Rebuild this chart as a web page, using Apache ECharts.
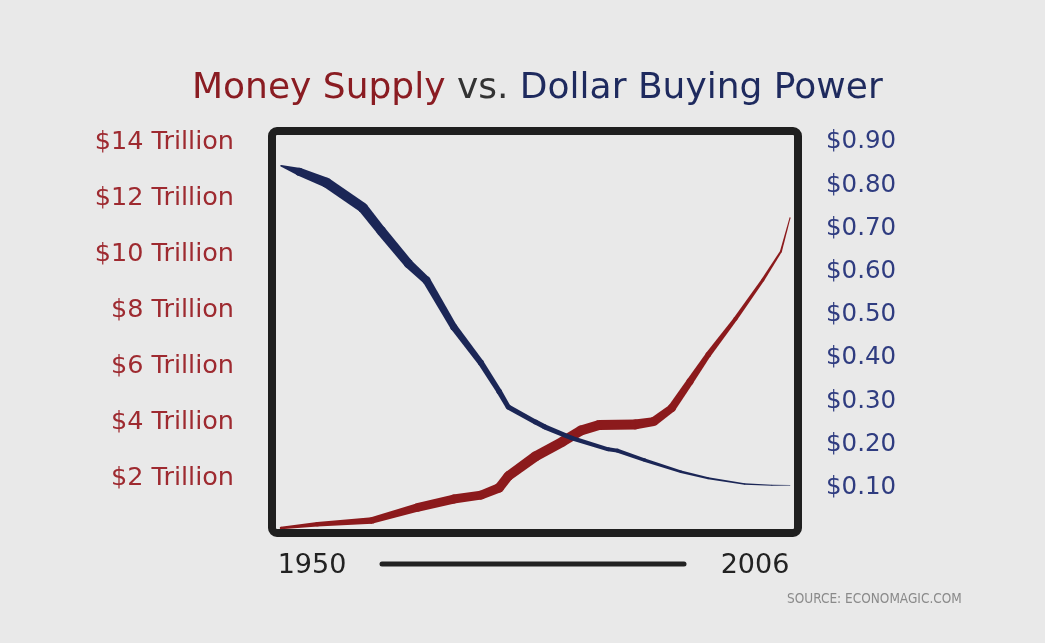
<!DOCTYPE html>
<html>
<head>
<meta charset="utf-8">
<script src="https://cdn.jsdelivr.net/npm/echarts@6/dist/echarts.min.js"></script>
<style>
html,body{margin:0;padding:0;background:#e9e9e9;}
#c{width:1045px;height:643px;}
</style>
</head>
<body>
<div id="c"></div>
<script>
// ---- data ----
const moneyYears  = [1950, 1954, 1960, 1965, 1969, 1972, 1974, 1975, 1978, 1981, 1983, 1985, 1989, 1991, 1993, 1995, 1997, 2000, 2003, 2005, 2006];
const moneyValues = [0.25, 0.38, 0.52, 0.98, 1.28, 1.42, 1.68, 2.10, 2.80, 3.33, 3.72, 3.92, 3.94, 4.04, 4.52, 5.47, 6.42, 7.70, 9.08, 10.1, 11.3];
const dollarYears  = [1950, 1952, 1955, 1959, 1961, 1964, 1966, 1969, 1972, 1974, 1975, 1978, 1979, 1982, 1986, 1987, 1990, 1994, 1997, 2001, 2004, 2006];
const dollarValues = [0.845, 0.831, 0.806, 0.748, 0.695, 0.619, 0.580, 0.472, 0.389, 0.323, 0.287, 0.252, 0.241, 0.215, 0.189, 0.186, 0.164, 0.137, 0.122, 0.109, 0.106, 0.106];
const yearLabels = [1950, 2006];
const title = ['Money Supply', 'vs.', 'Dollar Buying Power'];
const source = 'SOURCE: ECONOMAGIC.COM';

// ---- stroke widths at each vertex (style only) ----
const moneyWidths  = [2.5, 4.5, 6.5, 8.5, 9, 9, 9.5, 9.5, 10, 10, 10, 10, 10, 9, 8, 7, 5.5, 4, 3, 2, 1];
const dollarWidths = [1.5, 8, 10, 10, 9.5, 9, 8, 7, 6, 5.5, 5, 5, 5, 4.5, 4, 4, 3.5, 2.5, 2, 1.5, 1, 0.6];

const RED = '#8c1a1c', BLUE = '#1b2656';
const FONT = 'DejaVu Sans';

// tapered stroke drawn through the axes' own scale (api.coord)
function taperSeries(xs, ys, widths, color, gi, z) {
  return {
    type: 'custom', xAxisIndex: gi, yAxisIndex: gi, z: z, silent: true, animation: false,
    data: xs.map((x, i) => [x, ys[i]]),
    encode: { x: 0, y: 1 },
    renderItem: function (params, api) {
      const i = params.dataIndex;
      const p0 = api.coord([xs[i], ys[i]]);
      const r0 = widths[i] / 2;
      const children = [{
        type: 'circle', shape: { cx: p0[0], cy: p0[1], r: r0 }, style: { fill: color }
      }];
      if (i < xs.length - 1) {
        const p1 = api.coord([xs[i + 1], ys[i + 1]]);
        const r1 = widths[i + 1] / 2;
        const dx = p1[0] - p0[0], dy = p1[1] - p0[1];
        const len = Math.sqrt(dx * dx + dy * dy) || 1;
        const nx = -dy / len, ny = dx / len;
        children.push({
          type: 'polygon',
          shape: { points: [
            [p0[0] + nx * r0, p0[1] + ny * r0],
            [p1[0] + nx * r1, p1[1] + ny * r1],
            [p1[0] - nx * r1, p1[1] - ny * r1],
            [p0[0] - nx * r0, p0[1] - ny * r0]
          ] },
          style: { fill: color }
        });
      }
      return { type: 'group', children: children };
    }
  };
}

const chart = echarts.init(document.getElementById('c'), null, { renderer: 'canvas' });
chart.setOption({
  backgroundColor: '#e9e9e9',
  animation: false,
  title: [{
    text: '{r|' + title[0] + '} {g|' + title[1] + '} {b|' + title[2] + '}',
    left: 187, top: 66,
    textStyle: {
      fontFamily: FONT, fontSize: 36, fontWeight: 'normal',
      rich: {
        r: { color: '#8a1c22', fontFamily: FONT, fontSize: 36 },
        g: { color: '#333333', fontFamily: FONT, fontSize: 36 },
        b: { color: '#1e2a5e', fontFamily: FONT, fontSize: 36 }
      }
    }
  }, {
    text: source, left: 782, top: 587,
    textStyle: { fontFamily: 'DejaVu Sans Condensed', fontSize: 13.5, color: '#8a8a8a', fontWeight: 'normal' }
  }],
  grid: [
    { left: 281, right: 255, top: 142, bottom: 108 },
    { left: 281, right: 255, top: 142, bottom: 112 },
    { left: 312, right: 290, top: 500, height: 40 }
  ],
  xAxis: [
    { gridIndex: 0, type: 'value', min: 1950, max: 2006, show: false },
    { gridIndex: 1, type: 'value', min: 1950, max: 2006, show: false },
    { gridIndex: 2, type: 'value', min: yearLabels[0], max: yearLabels[1], interval: yearLabels[1] - yearLabels[0],
      axisLine: { show: false }, axisTick: { show: false }, splitLine: { show: false },
      axisLabel: { fontFamily: FONT, fontSize: 27, color: '#222', margin: 12, formatter: v => String(v) } }
  ],
  yAxis: [
    { gridIndex: 0, type: 'value', position: 'left', min: 0, max: 14, interval: 2,
      axisLine: { show: false }, axisTick: { show: false }, splitLine: { show: false },
      axisLabel: { showMinLabel: false, margin: 47, fontFamily: FONT, fontSize: 25.5, color: '#9e2a30',
        formatter: v => '$' + v + ' Trillion' } },
    { gridIndex: 1, type: 'value', position: 'right', min: 0, max: 0.9, interval: 0.1,
      axisLine: { show: false }, axisTick: { show: false }, splitLine: { show: false },
      axisLabel: { showMinLabel: false, margin: 36, fontFamily: FONT, fontSize: 24.5, color: '#2f3c80',
        formatter: v => '$' + v.toFixed(2) } },
    { gridIndex: 2, type: 'value', show: false }
  ],
  graphic: [
    { type: 'rect', z: 100, silent: true,
      shape: { x: 272, y: 131, width: 526, height: 402, r: 5 },
      style: { fill: 'none', stroke: '#1f1f1f', lineWidth: 8 } },
    { type: 'line', z: 100, silent: true,
      shape: { x1: 382, y1: 564, x2: 684, y2: 564 },
      style: { stroke: '#222', lineWidth: 5, lineCap: 'round' } }
  ],
  series: [
    taperSeries(moneyYears, moneyValues, moneyWidths, RED, 0, 2),
    taperSeries(dollarYears, dollarValues, dollarWidths, BLUE, 1, 3)
  ]
});
</script>
</body>
</html>
